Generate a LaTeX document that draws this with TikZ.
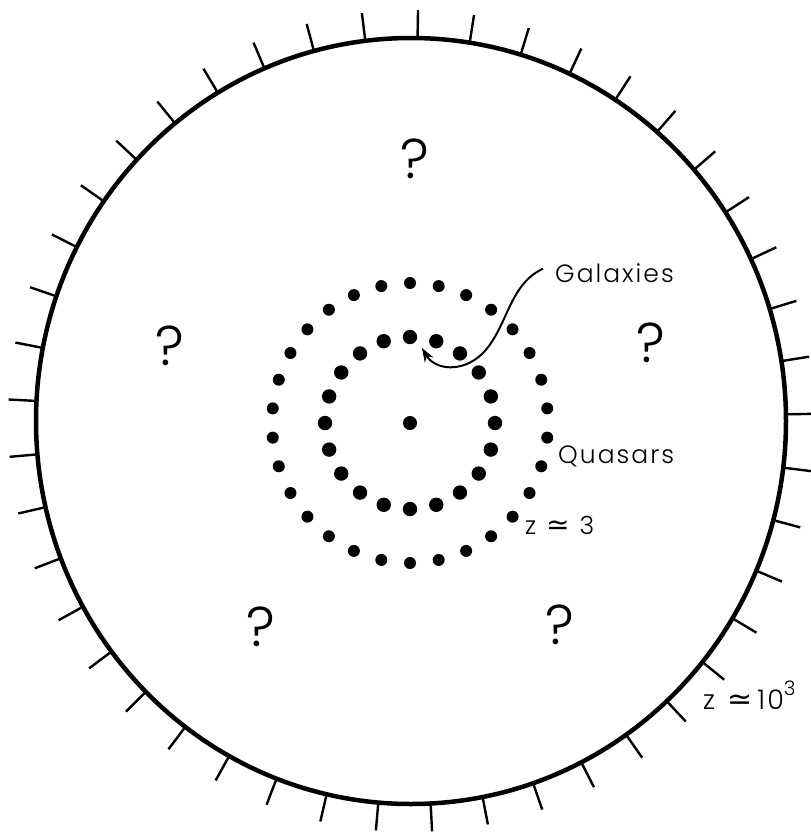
\documentclass[tikz,border=0pt]{standalone}
\usepackage{fontspec}
\setmainfont{Poppins}[UprightFont=* Light, LetterSpace=8]
\newfontfamily\symfont{DejaVu Sans}
\usetikzlibrary{arrows.meta}
\begin{document}
\begin{tikzpicture}[x=1pt,y=-1pt,
  lbl/.style={font=\fontsize{25}{25}\selectfont, inner sep=0pt, anchor=base west},
  qm/.style={font=\fontsize{56}{56}\selectfont, inner sep=0pt, anchor=base},
  rimtick/.style={line width=2.4pt},
  rim/.style={line width=4.5pt},
  gdot/.style={fill=black},
  pointer/.style={line width=2pt, -{Stealth[length=14pt,width=10pt]}}]
\useasboundingbox (0,0) rectangle (811,836);
% horizon circle
\draw[rim] (411,421) ellipse [x radius=375, y radius=383];
% ticks
\foreach \k in {0,...,44} {
  \pgfmathsetmacro{\a}{1+8*\k}
  \draw[rimtick] ({411+375*cos(\a)},{421-383*sin(\a)}) -- ({411+403*cos(\a)},{421-411*sin(\a)});
}
% central galaxy
\fill[gdot] (410,423) circle [radius=7];
% inner ring (galaxies)
\foreach \k in {0,...,19} {
  \fill[gdot] ({410+85*cos(90+18*\k)},{423-86*sin(90+18*\k)}) circle [radius=7.2];
}
% outer ring (quasars)
\foreach \k in {0,...,29} {
  \fill[gdot] ({410+138*cos(90+12*\k)},{423-140*sin(90+12*\k)}) circle [radius=6];
}
% labels
\node[lbl] (gal) at (555,282) {Galaxies};
\node[lbl] (qua) at (558,463) {Quasars};
\node[lbl] (z3) at (525,534) {z\hspace{10pt}{\symfont\fontsize{28}{28}\selectfont ≃}\hspace{10pt}3};
\node[lbl] (z1000) at (703,709) {\fontsize{27}{27}\selectfont z\hspace{12pt}{\symfont\fontsize{30}{30}\selectfont ≃}\hspace{5pt}10\raisebox{0.5em}{\fontsize{20}{20}\selectfont 3}};
% question marks
\node[qm] (q1) at (415,178) {?};
\node[qm] (q2) at (170,365) {?};
\node[qm] (q3) at (651,362) {?};
\node[qm] (q4) at (261,646) {?};
\node[qm] (q5) at (560,644) {?};
% pointer
\coordinate (gtip) at (422,348);
\draw[pointer] ([xshift=-12pt,yshift=4pt]gal.west) .. controls (508,285) and (508,328) .. (482,354) .. controls (462,373) and (435,370) .. (gtip);
\end{tikzpicture}
\end{document}
